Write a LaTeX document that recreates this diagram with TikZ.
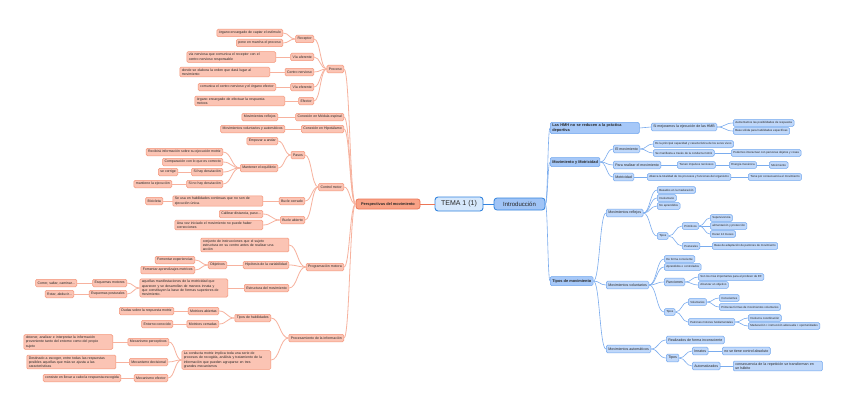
\documentclass[tikz,border=0pt]{standalone}
\usepackage{fontspec}
\setmainfont{Liberation Sans}
\usetikzlibrary{calc}
\definecolor{lfill}{RGB}{251,196,180}
\definecolor{lbord}{RGB}{244,148,120}
\definecolor{lline}{RGB}{247,178,158}
\definecolor{pfill}{RGB}{249,162,134}
\definecolor{pbord}{RGB}{236,118,86}
\definecolor{rfill}{RGB}{192,216,250}
\definecolor{rbord}{RGB}{112,166,238}
\definecolor{rline}{RGB}{122,172,238}
\definecolor{r1fill}{RGB}{166,200,248}
\definecolor{tfill}{RGB}{214,232,252}
\definecolor{tbord}{RGB}{52,132,222}
\definecolor{ifill}{RGB}{160,196,246}
\tikzset{
  base/.style={rounded corners=1.3pt, line width=0.5pt, text=black!85, inner xsep=2pt, inner ysep=1.5pt},
  lnode/.style={base, draw=lbord, fill=lfill, anchor=east, font=\fontsize{3.5}{4.2}\selectfont, minimum height=7.5pt},
  lmulti/.style={lnode, align=left, text width=#1},
  rnode/.style={base, draw=rbord, fill=rfill, anchor=west, font=\fontsize{2.9}{3.5}\selectfont, minimum height=6.6pt},
  rmid/.style={rnode, font=\fontsize{3.6}{4.3}\selectfont, minimum height=7.6pt},
  rmulti/.style={rmid, align=left, text width=#1},
  rtop/.style={base, draw=rbord, fill=r1fill, anchor=west, font=\bfseries\fontsize{3.9}{4.6}\selectfont, minimum height=9pt},
  lconn/.style={draw=lline, line width=0.8pt},
  rconn/.style={draw=rline, line width=0.6pt},
}
\newcommand\LinkL[2]{\draw[lconn] let \p1=(#1.west), \p2=(#2.east) in (\p1) .. controls ({(\x1+\x2)/2},\y1) and ({(\x1+\x2)/2},\y2) .. (\p2);}
\newcommand\LinkR[2]{\draw[rconn] let \p1=(#1.east), \p2=(#2.west) in (\p1) .. controls ({(\x1+\x2)/2},\y1) and ({(\x1+\x2)/2},\y2) .. (\p2);}
\begin{document}
\begin{tikzpicture}[x=1pt,y=-1pt]
\useasboundingbox (0,0) rectangle (848,412);
\fill[white] (0,0) rectangle (848,412);
% ---------- centre ----------
\node[base, draw=tbord, fill=tfill, line width=0.9pt, rounded corners=3pt, minimum width=48pt, minimum height=14pt, font=\fontsize{7}{8}\selectfont] (tema) at (459,204) {TEMA 1 (1)};
\node[base, draw=tbord, fill=ifill, line width=0.8pt, rounded corners=3pt, minimum width=51pt, minimum height=12pt, font=\fontsize{6}{7}\selectfont] (intro) at (519.5,204) {Introducción};
\node[base, draw=pbord, fill=pfill, line width=0.8pt, rounded corners=2.5pt, minimum width=64pt, minimum height=10pt, font=\bfseries\fontsize{3.9}{4.6}\selectfont] (pers) at (388,204) {Perspectivas del movimiento};
\draw[draw=tbord, line width=1pt] (tema) -- (intro);
\draw[draw=pbord, line width=1pt] (tema) -- (pers);
% ---------- left level 1 ----------
\node[lnode] (proc) at (344,69) {Proceso};
\node[lnode] (cme) at (344,117) {Conexión en Médula espinal};
\node[lnode] (chi) at (344,129) {Conexión en Hipotálamo};
\node[lnode] (cmo) at (344,187) {Control motor};
\node[lnode] (pmo) at (344,267) {Programación motora};
\node[lnode] (pin) at (344,338) {Procesamiento de la información};
% Proceso
\node[lnode] (rec) at (314,39) {Receptor};
\node[lnode] (vaf) at (314,57) {Vía aferente};
\node[lnode] (cne) at (314,72) {Centro nervioso};
\node[lnode] (vef) at (314,87) {Vía eferente};
\node[lnode] (efe) at (314,101) {Efector};
\node[lnode] (rec1) at (283,33) {órgano encargado de captar el estímulo};
\node[lnode] (rec2) at (283,43) {pone en marcha el proceso};
\node[lmulti=85pt] (vaf1) at (276,57) {vía nerviosa que comunica el receptor con el\\centro nervioso responsable};
\node[lmulti=86pt] (cne1) at (270,72) {donde se elabora la orden que dará lugar al\\movimiento};
\node[lnode] (vef1) at (276,87) {comunica el centro nervioso y el órgano efector};
\node[lmulti=86pt] (efe1) at (285,101) {órgano encargado de efectuar la respuesta\\motora};
\node[lnode] (mre) at (278,117) {Movimientos reflejos};
\node[lnode] (mva) at (285,129) {Movimientos voluntarios y automáticos};
% Control motor
\node[lnode] (pas) at (305,155) {Pasos};
\node[lnode] (bce) at (305,201) {Bucle cerrado};
\node[lnode] (bab) at (305,220) {Bucle abierto};
\node[lnode] (ean) at (278,141) {Empezar a andar};
\node[lnode] (meq) at (278,168) {Mantener el equilibrio};
\node[lnode] (m1) at (223,152) {Recibirá información sobre su ejecución motriz};
\node[lnode] (m2) at (223,162) {Comparación con lo que es correcto};
\node[lnode] (m3) at (223,172) {Si hay desviación};
\node[lnode] (m4) at (223,184) {Si no hay desviación};
\node[lnode] (m3a) at (178,172) {se corrige};
\node[lnode] (m4a) at (172,184) {mantiene la ejecución};
\node[lmulti=86pt] (bce1) at (263,201) {Se usa en habilidades continuas que no son de\\ejecución única.};
\node[lnode] (bce2) at (163,201) {Bicicleta};
\node[lnode] (bab1) at (263,214) {Calibrar distancia, paso...};
\node[lmulti=84pt] (bab2) at (263,225) {Una vez iniciado el movimiento no puede haber\\correcciones};
% Programación motora
\node[lmulti=84pt] (pm1) at (289,245) {conjunto de instrucciones que el sujeto\\estructura en su centro antes de realizar una\\acción};
\node[lnode] (pm2) at (289,265) {Hipótesis de la variabilidad};
\node[lnode] (pm3) at (289,288) {Estructura del movimiento};
\node[lnode] (obj) at (227,265) {Objetivos};
\node[lnode] (fe1) at (195,260) {Fomentar experiencias};
\node[lnode] (fe2) at (195,270) {Fomentar aprendizajes motrices};
\node[lmulti=84pt] (agl) at (228,288) {aquellas manifestaciones de la motricidad que\\aparecen y se desarrollan de manera innata y\\que constituyen la base de formas superiores de\\movimiento.};
\node[lnode] (esm) at (127,283) {Esquemas motores};
\node[lnode] (esp) at (127,294) {Esquemas posturales};
\node[lnode] (cor) at (77,283) {Correr, saltar, caminar...};
\node[lnode] (rot) at (74,294) {Rotar, abducir...};
% Procesamiento
\node[lnode] (tha) at (271,318) {Tipos de habilidades};
\node[lmulti=85pt] (con) at (271,360) {La conducta motriz implica toda una serie de\\procesos de recogida, análisis y tratamiento de la\\información que pueden agruparse en tres\\grandes mecanismos};
\node[lnode] (mab) at (219,311) {Motrices abiertas};
\node[lnode] (mce) at (219,324) {Motrices cerradas};
\node[lnode] (dud) at (174,311) {Dudas sobre la respuesta motriz};
\node[lnode] (ent) at (173,324) {Entorno conocido};
\node[lnode] (mpe) at (169,342) {Mecanismo perceptivos};
\node[lnode] (mde) at (168,362) {Mecanismo decisional};
\node[lnode] (mef) at (168,378) {Mecanismo efector};
\node[lmulti=85pt] (mpe1) at (113,342) {obtener, analizar e interpretar la información\\proveniente tanto del entorno como del propio\\sujeto};
\node[lmulti=85pt] (mde1) at (116,362) {Destinado a escoger, entre todas las respuestas\\posibles aquellas que más se ajusta a las\\características};
\node[lnode] (mef1) at (121,378) {consiste en llevar a cabo la respuesta escogida};
% left connectors
\foreach \c in {proc,cme,chi,cmo,pmo,pin} {\LinkL{pers}{\c}}
\foreach \c in {rec,vaf,cne,vef,efe} {\LinkL{proc}{\c}}
\LinkL{rec}{rec1} \LinkL{rec}{rec2}
\LinkL{vaf}{vaf1} \LinkL{cne}{cne1} \LinkL{vef}{vef1} \LinkL{efe}{efe1}
\LinkL{cme}{mre} \LinkL{chi}{mva}
\foreach \c in {pas,bce,bab} {\LinkL{cmo}{\c}}
\LinkL{pas}{ean} \LinkL{pas}{meq}
\foreach \c in {m1,m2,m3,m4} {\LinkL{meq}{\c}}
\LinkL{m3}{m3a} \LinkL{m4}{m4a}
\LinkL{bce}{bce1} \LinkL{bce1}{bce2}
\LinkL{bab}{bab1} \LinkL{bab}{bab2}
\foreach \c in {pm1,pm2,pm3} {\LinkL{pmo}{\c}}
\LinkL{pm2}{obj} \LinkL{obj}{fe1} \LinkL{obj}{fe2}
\LinkL{pm3}{agl} \LinkL{agl}{esm} \LinkL{agl}{esp}
\LinkL{esm}{cor} \LinkL{esp}{rot}
\LinkL{pin}{tha} \LinkL{pin}{con}
\LinkL{tha}{mab} \LinkL{tha}{mce} \LinkL{mab}{dud} \LinkL{mce}{ent}
\foreach \c in {mpe,mde,mef} {\LinkL{con}{\c}}
\LinkL{mpe}{mpe1} \LinkL{mde}{mde1} \LinkL{mef}{mef1}
% ---------- right ----------
\node[rtop, align=left, text width=85pt] (hmh) at (550,128) {Las HMH no se reducen a la práctica\\deportiva};
\node[rtop] (mym) at (550,162) {Movimiento y Motricidad};
\node[rtop] (tdm) at (550,281) {Tipos de movimiento};
\node[rmid] (smj) at (651,127) {Si mejoramos la ejecución de las HMB};
\node[rnode] (aum) at (733,123) {Aumentamos las posibilidades de respuesta};
\node[rnode] (bas) at (733,131) {Base sólida para habilidades específicas};
\node[rmid] (emo) at (613,149) {El movimiento};
\node[rmid] (pre) at (613,165) {Para realizar el movimiento};
\node[rmid] (mot) at (613,177) {Motricidad};
\node[rnode] (esl) at (653,144) {Es la principal capacidad y característica de los seres vivos};
\node[rnode] (sem) at (653,153) {Se manifiesta a través de la conducta motriz};
\node[rnode] (pod) at (731,153) {Podemos interactuar con personas objetos y cosas};
\node[rnode] (tim) at (677,165) {Tienen impulsos nerviosos};
\node[rnode] (ene) at (729,165) {Energía mecánica};
\node[rnode] (mvt) at (769,165) {Movimiento};
\node[rnode] (aba) at (647,177) {Abarca la totalidad de los procesos y funciones del organismo};
\node[rnode] (tie) at (748,177) {Tiene por consecuencia el movimiento};
\node[rmid] (mrf) at (606,213) {Movimientos reflejos};
\node[rmid] (mvo) at (606,285) {Movimientos voluntarios};
\node[rmid] (mau) at (606,349) {Movimientos automáticos};
\node[rnode] (bam) at (657,190) {Basados en la maduración};
\node[rnode] (inv) at (657,198) {Involuntario};
\node[rnode] (noa) at (657,206) {No aprendidos};
\node[rnode] (tr) at (657,236) {Tipos};
\node[rnode] (pri) at (682,226) {Primitivos};
\node[rnode] (pos) at (682,246) {Posturales};
\node[rnode] (sup) at (710,218) {Supervivencia};
\node[rnode] (ali) at (710,226) {alimentación y protección};
\node[rnode] (dur) at (710,234) {Duran 12 meses};
\node[rnode] (bad) at (712,246) {Base de adaptación de patrones de movimiento};
\node[rnode] (dfc) at (664,259) {De forma consciente};
\node[rnode] (apc) at (664,267) {Aprendidos o controlados};
\node[rmid] (fun) at (664,282) {Funciones};
\node[rnode] (tv) at (664,312) {Tipos};
\node[rnode] (slm) at (698,277) {Son los más importantes para el profesor de EF};
\node[rnode] (alc) at (698,285) {Alcanzar un objetivo};
\node[rnode] (vol) at (688,302) {Voluntarios};
\node[rnode] (pmf) at (688,322) {Patrones motores fundamentales};
\node[rnode] (cns) at (719,298) {Conscientes};
\node[rnode] (pfm) at (719,307) {Primeras formas de movimientos voluntarios};
\node[rnode] (icc) at (748,318) {Involucra coordinación};
\node[rnode] (act) at (748,326) {Maduración + instrucción adecuada + oportunidades};
\node[rmid] (rfi) at (666,340) {Realizados de forma inconsciente};
\node[rmid] (ta) at (666,358) {Tipos};
\node[rmid] (inn) at (692,351) {Innatos};
\node[rmid] (aut) at (692,366) {Automatizados};
\node[rmid] (nst) at (722,351) {no se tiene control absoluto};
\node[rmulti=85pt] (csc) at (733,366) {consecuencia de la repetición se transforman en\\un hábito};
% right connectors
\foreach \c in {hmh,mym,tdm} {\LinkR{intro}{\c}}
\LinkR{hmh}{smj} \LinkR{smj}{aum} \LinkR{smj}{bas}
\foreach \c in {emo,pre,mot} {\LinkR{mym}{\c}}
\LinkR{emo}{esl} \LinkR{emo}{sem} \LinkR{sem}{pod}
\LinkR{pre}{tim} \LinkR{tim}{ene} \LinkR{ene}{mvt}
\LinkR{mot}{aba} \LinkR{aba}{tie}
\foreach \c in {mrf,mvo,mau} {\LinkR{tdm}{\c}}
\foreach \c in {bam,inv,noa,tr} {\LinkR{mrf}{\c}}
\LinkR{tr}{pri} \LinkR{tr}{pos}
\foreach \c in {sup,ali,dur} {\LinkR{pri}{\c}}
\LinkR{pos}{bad}
\foreach \c in {dfc,apc,fun,tv} {\LinkR{mvo}{\c}}
\LinkR{fun}{slm} \LinkR{fun}{alc}
\LinkR{tv}{vol} \LinkR{tv}{pmf}
\LinkR{vol}{cns} \LinkR{vol}{pfm}
\LinkR{pmf}{icc} \LinkR{pmf}{act}
\LinkR{mau}{rfi} \LinkR{mau}{ta}
\LinkR{ta}{inn} \LinkR{ta}{aut}
\LinkR{inn}{nst} \LinkR{aut}{csc}
\end{tikzpicture}
\end{document}
